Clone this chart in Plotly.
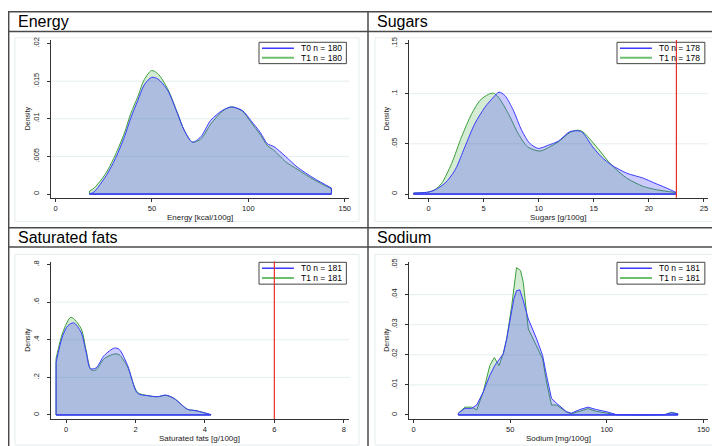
import plotly.graph_objects as go

# ---------------- data ----------------
energy_t0_x = [17.6, 20, 24, 27.1, 31, 35.7, 39, 42.6, 46, 49.8, 53, 58.1, 63.2, 66.7, 71.0, 75.3,
               80.5, 86.5, 91.2, 96.9, 101.2, 106.4, 109.8, 113.3, 119.3, 125.3, 134, 143.1]
energy_t0_y = [0, 0.0003, 0.0016, 0.0028, 0.0047, 0.0076, 0.0101, 0.0124, 0.0145, 0.0155, 0.0153,
               0.0138, 0.0107, 0.0085, 0.0069, 0.0076, 0.0098, 0.0111, 0.01156, 0.0111, 0.0098,
               0.0081, 0.0067, 0.0063, 0.0050, 0.0036, 0.0021, 0.0008]
energy_t1_x = [17.6, 20, 24, 27.1, 31, 35.7, 39, 42.6, 46, 49.8, 53, 58.1, 63.2, 66.7, 71.0, 75.3,
               80.5, 86.5, 91.2, 96.9, 101.2, 106.4, 110, 113.3, 119.3, 125.3, 134, 143.1]
energy_t1_y = [0.0004, 0.0008, 0.0020, 0.0032, 0.0052, 0.0081, 0.0107, 0.0129, 0.0152, 0.0164, 0.0160,
               0.0140, 0.0108, 0.0085, 0.0069, 0.0073, 0.0093, 0.0110, 0.0116, 0.0110, 0.0096,
               0.0078, 0.0064, 0.0058, 0.0043, 0.0033, 0.0019, 0.0007]

sugars_t0_x = [-1.36, 0, 0.6, 1.5, 2.41, 3.3, 4.2, 5.13, 5.9, 6.4, 6.94, 7.7, 8.45, 9.2, 9.96, 10.9,
               11.78, 12.8, 13.4, 13.9, 14.9, 15.7, 16.6, 18.0, 19.5, 20.4, 21.6, 22.5]
sugars_t0_y = [0.001, 0.002, 0.0043, 0.0109, 0.024, 0.047, 0.070, 0.0866, 0.0965, 0.1015, 0.098,
               0.0834, 0.0636, 0.0504, 0.0455, 0.0488, 0.0527, 0.062, 0.063, 0.062, 0.047, 0.037,
               0.029, 0.0208, 0.0158, 0.0115, 0.006, 0.0015]
sugars_t1_x = [-1.36, 0, 0.6, 1.2, 2.1, 3.0, 3.92, 4.67, 5.43, 5.9, 6.34, 7.25, 8.15, 9.0, 10.1, 11.0,
               11.78, 12.8, 13.5, 14.0, 15.25, 16.6, 18.0, 19.5, 20.7, 22.5]
sugars_t1_y = [0.001, 0.002, 0.0045, 0.0109, 0.0306, 0.057, 0.080, 0.0932, 0.0992, 0.1005, 0.0965,
               0.080, 0.060, 0.047, 0.0428, 0.047, 0.052, 0.061, 0.0636, 0.062, 0.047, 0.029,
               0.0158, 0.0076, 0.0043, 0.0015]

satfat_t0_x = [-0.29, -0.095, 0.05, 0.22, 0.43, 0.575, 0.70, 0.86, 1.10, 1.39, 1.53, 1.77, 2.06,
               2.35, 2.63, 2.87, 3.11, 3.5, 3.74, 4.17]
satfat_t0_y = [0.28, 0.423, 0.475, 0.49, 0.44, 0.335, 0.247, 0.25, 0.317, 0.356, 0.349, 0.264,
               0.115, 0.103, 0.097, 0.106, 0.088, 0.030, 0.023, 0.002]
satfat_t1_x = [-0.29, -0.095, 0.14, 0.43, 0.575, 0.72, 0.86, 1.10, 1.41, 1.53, 1.77, 2.06, 2.35,
               2.63, 2.87, 3.11, 3.5, 3.74, 4.17]
satfat_t1_y = [0.30, 0.44, 0.52, 0.46, 0.345, 0.24, 0.24, 0.30, 0.325, 0.32, 0.256, 0.12, 0.103,
               0.097, 0.104, 0.088, 0.030, 0.023, 0.002]

sodium_t0_x = [23.2, 26.6, 30.1, 32.7, 36.1, 39.5, 42.1, 44.7, 46.5, 48.2, 49.9, 51.9, 53.3, 55.0,
               56.8, 59.4, 63.7, 66.8, 68.8, 71.4, 74.0, 79.1, 81.7, 86, 90.3, 94.6, 99.8, 105,
               120, 130, 133.4, 136.8]
sodium_t0_y = [0.0006, 0.0022, 0.0022, 0.0033, 0.0077, 0.0132, 0.0165, 0.0187, 0.0204, 0.0253,
               0.0319, 0.0385, 0.0413, 0.0416, 0.038, 0.0319, 0.0253, 0.0198, 0.0132, 0.0055,
               0.0039, 0.0011, 0.0006, 0.0018, 0.0026, 0.0018, 0.0011, 0.0001, 0.0, 0.0001,
               0.0007, 0.0004]
sodium_t1_x = [23.2, 26.6, 30.1, 32.7, 36.1, 39.5, 41.8, 44.2, 46.4, 48.2, 50.8, 53.3, 55.4, 56.8,
               59.4, 61.1, 63.7, 66.8, 68.8, 71.4, 74.0, 79.1, 81.7, 86, 90.3, 94.6, 99.8, 105,
               120, 130, 133.4, 136.8]
sodium_t1_y = [0.0006, 0.0026, 0.0026, 0.0017, 0.0077, 0.0165, 0.0191, 0.0164, 0.0204, 0.0253,
               0.0363, 0.049, 0.048, 0.044, 0.0286, 0.0264, 0.0231, 0.0187, 0.011, 0.0033,
               0.0033, 0.001, 0.0004, 0.0012, 0.0021, 0.0012, 0.0007, 0.0001, 0.0, 0.0001,
               0.0009, 0.0004]

panel_titles = ["Energy", "Sugars", "Saturated fats", "Sodium"]
x_titles = ["Energy [kcal/100g]", "Sugars [g/100g]", "Saturated fats [g/100g]", "Sodium [mg/100g]"]
n_t0 = [180, 178, 181, 181]
n_t1 = [180, 178, 181, 181]
x_ticks = [[0, 50, 100, 150], [0, 5, 10, 15, 20, 25], [0, 2, 4, 6, 8], [0, 50, 100, 150]]
y_ticks = [[0, 0.005, 0.01, 0.015, 0.02], [0, 0.05, 0.1, 0.15], [0, 0.2, 0.4, 0.6, 0.8],
           [0, 0.01, 0.02, 0.03, 0.04, 0.05]]
y_ticklabels = [["0", ".005", ".01", ".015", ".02"], ["0", ".05", ".1", ".15"],
                ["0", ".2", ".4", ".6", ".8"], ["0", ".01", ".02", ".03", ".04", ".05"]]
limit_lines = [None, 22.5, 6, None]

series = [
    (energy_t0_x, energy_t0_y, energy_t1_x, energy_t1_y),
    (sugars_t0_x, sugars_t0_y, sugars_t1_x, sugars_t1_y),
    (satfat_t0_x, satfat_t0_y, satfat_t1_x, satfat_t1_y),
    (sodium_t0_x, sodium_t0_y, sodium_t1_x, sodium_t1_y),
]

# ---------------- layout geometry (pixels) ----------------
W, H = 720, 446
def fx(px):
    return px / W
def fy(py):
    return 1 - py / H

x_ranges = [[-2.6, 152.4], [-1.81, 25.4], [-0.448, 8.161], [-2.58, 152.6]]
y_ranges = [[-0.00049, 0.02045], [-0.00366, 0.1533], [-0.0211, 0.8159], [-0.00132, 0.05099]]
x_dom_px = [(42.7, 342.3), (401.7, 702.3), (42.7, 342.3), (401.7, 702.3)]
y_dom_px = [(29.3, 188.0), (29.3, 188.0), (252.3, 410.7), (252.3, 410.7)]
shapes_line_smooth = ["spline", "spline", "spline", "linear"]

BLUE = "#3b3bff"
GREEN = "#3c9f3c"
BLUE_FILL = "rgba(70,70,255,0.28)"
GREEN_FILL = "rgba(60,170,60,0.22)"
AX = "#333333"
FONT = "Liberation Sans, Arial, sans-serif"

fig = go.Figure()
layout_axes = {}
shapes = []
top_shapes = []
annotations = []

for i in range(4):
    xa = "x" if i == 0 else f"x{i+1}"
    ya = "y" if i == 0 else f"y{i+1}"
    t0x, t0y, t1x, t1y = series[i]
    sh = shapes_line_smooth[i]
    # T1 first (underneath), then T0 on top
    for (xs, ys, col, fill) in [(t1x, t1y, GREEN, GREEN_FILL), (t0x, t0y, BLUE, BLUE_FILL)]:
        fig.add_trace(go.Scatter(x=xs, y=ys, mode="lines", fill="tozeroy", fillcolor=fill,
                                 line=dict(color=col, width=1, shape=sh, smoothing=0.8),
                                 xaxis=xa, yaxis=ya, showlegend=False, hoverinfo="skip"))
        # closing outline: vertical ends and baseline
        fig.add_trace(go.Scatter(x=[xs[0], xs[0], xs[-1], xs[-1]], y=[ys[0], 0, 0, ys[-1]],
                                 mode="lines", line=dict(color=col, width=1),
                                 xaxis=xa, yaxis=ya, showlegend=False, hoverinfo="skip"))
    # baseline in blue on top
    fig.add_trace(go.Scatter(x=[min(t0x[0], t1x[0]), max(t0x[-1], t1x[-1])], y=[0, 0],
                             mode="lines", line=dict(color=BLUE, width=1.2),
                             xaxis=xa, yaxis=ya, showlegend=False, hoverinfo="skip"))

    kx = "xaxis" if i == 0 else f"xaxis{i+1}"
    ky = "yaxis" if i == 0 else f"yaxis{i+1}"
    layout_axes[kx] = dict(domain=[fx(x_dom_px[i][0]), fx(x_dom_px[i][1])], range=x_ranges[i],
                           anchor=ya, showgrid=False, zeroline=False, showline=True,
                           linecolor=AX, linewidth=1, ticks="outside", ticklen=3, tickcolor=AX,
                           tickvals=x_ticks[i], tickfont=dict(size=7.5, color="#222", family=FONT))
    layout_axes[ky] = dict(domain=[fy(y_dom_px[i][1]), fy(y_dom_px[i][0])], range=y_ranges[i],
                           anchor=xa, showgrid=False, zeroline=False, showline=True,
                           linecolor=AX, linewidth=1, ticks="outside", ticklen=3, tickcolor=AX,
                           tickvals=y_ticks[i], ticktext=y_ticklabels[i], tickangle=-90,
                           ticklabelstandoff=5,
                           tickfont=dict(size=7.5, color="#222", family=FONT))
    # gridlines at inner ticks
    for v in y_ticks[i][1:-1]:
        shapes.append(dict(type="line", xref=f"{xa} domain", yref=ya, x0=0, x1=1, y0=v, y1=v,
                           line=dict(color="#e4eef0", width=1), layer="below"))
    # limit line (drawn above the legend box, as in the reference)
    if limit_lines[i] is not None:
        top_shapes.append(dict(type="line", xref=xa, yref=f"{ya} domain", x0=limit_lines[i],
                               x1=limit_lines[i], y0=0, y1=1,
                               line=dict(color="#e8302a", width=1.2)))

    # faint panel frame
    left = i % 2 == 0
    top = i < 2
    fx0, fx1 = (7, 352) if left else (368, 713)
    fy0, fy1 = (27, 212) if top else (245, 437)
    shapes.append(dict(type="rect", xref="paper", yref="paper", x0=fx(fx0), x1=fx(fx1),
                       y0=fy(fy1), y1=fy(fy0), line=dict(color="#e6edef", width=1), layer="below"))

    # panel title
    tx = 8 if left else 368
    ty = 10.5 if top else 228
    annotations.append(dict(text=panel_titles[i], x=fx(tx), y=fy(ty), xref="paper", yref="paper",
                            xanchor="left", yanchor="middle", showarrow=False,
                            font=dict(size=16, color="black", family=FONT)))
    # axis titles
    cx = (x_dom_px[i][0] + x_dom_px[i][1]) / 2
    annotations.append(dict(text=x_titles[i], x=fx(cx), y=fy(208 if top else 430.5),
                            xref="paper", yref="paper", xanchor="center", yanchor="middle",
                            showarrow=False, font=dict(size=8, color="#222", family=FONT)))
    annotations.append(dict(text="Density", x=fx(20 if left else 380),
                            y=fy(108 if top else 331), xref="paper", yref="paper",
                            xanchor="center", yanchor="middle", textangle=-90, showarrow=False,
                            font=dict(size=7, color="#222", family=FONT)))

    # legend box
    bx0, bx1 = (251.7, 339.3) if left else (610.7, 698.8)
    by0, by1 = (31.5, 53) if top else (253, 275)
    l1, l2 = (37.5, 47) if top else (259, 268.7)
    shapes.append(dict(type="rect", xref="paper", yref="paper", x0=fx(bx0), x1=fx(bx1),
                       y0=fy(by1), y1=fy(by0), line=dict(color="#444", width=1),
                       fillcolor="white"))
    lx0 = bx0 + 3
    lx1 = bx0 + 35
    shapes.append(dict(type="line", xref="paper", yref="paper", x0=fx(lx0), x1=fx(lx1),
                       y0=fy(l1), y1=fy(l1), line=dict(color=BLUE, width=1.5)))
    shapes.append(dict(type="line", xref="paper", yref="paper", x0=fx(lx0), x1=fx(lx1),
                       y0=fy(l2), y1=fy(l2), line=dict(color="#6cbf6c", width=2)))
    annotations.append(dict(text=f"T0 n = {n_t0[i]}", x=fx(bx0 + 40.5), y=fy(l1), xref="paper",
                            yref="paper", xanchor="left", yanchor="middle", showarrow=False,
                            font=dict(size=8.5, color="black", family=FONT)))
    annotations.append(dict(text=f"T1 n = {n_t1[i]}", x=fx(bx0 + 40.5), y=fy(l2), xref="paper",
                            yref="paper", xanchor="left", yanchor="middle", showarrow=False,
                            font=dict(size=8.5, color="black", family=FONT)))

shapes.extend(top_shapes)

# frame lines
FR = "#4a4a4a"
for (x0, y0, x1, y1) in [(0, 20.7, W, 20.7), (0, 218.3, W, 218.3), (0, 237.7, W, 237.7),
                         (361, 0, 361, H)]:
    shapes.append(dict(type="line", xref="paper", yref="paper", x0=fx(x0), x1=fx(x1),
                       y0=fy(y0), y1=fy(y1), line=dict(color=FR, width=1.5)))
shapes.append(dict(type="rect", xref="paper", yref="paper", x0=fx(0.7), x1=fx(W - 0.7),
                   y0=fy(H - 0.7), y1=fy(0.7), line=dict(color=FR, width=1.5)))

fig.update_layout(width=W, height=H, margin=dict(l=0, r=0, t=0, b=0),
                  paper_bgcolor="white", plot_bgcolor="white", showlegend=False,
                  shapes=shapes, annotations=annotations, font=dict(family=FONT),
                  **layout_axes)

fig.write_html("out.html")
